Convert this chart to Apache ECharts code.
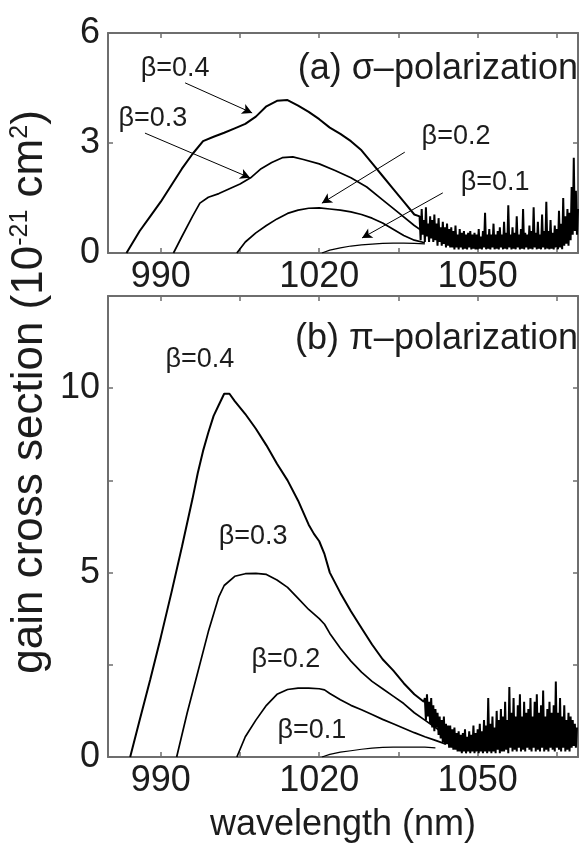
<!DOCTYPE html>
<html><head><meta charset="utf-8">
<script src="https://cdn.jsdelivr.net/npm/echarts@6/dist/echarts.min.js"></script>
<style>html,body{margin:0;padding:0;background:#fff}#c{width:582px;height:855px}</style>
</head><body><div id="c"></div>
<script>
// ---------- (a) sigma polarization ----------
const sig04Wl = [983.5,986,988,990,992,994,996,998,1000,1002,1004,1006,1008,1010,1012,1014,1016,1018,1020,1022,1024,1026,1028,1030,1032,1034,1036,1038];
const sig04Val = [0,0.6,1.0,1.4,1.85,2.3,2.7,3.05,3.17,3.28,3.4,3.52,3.72,4.0,4.15,4.17,4.02,3.85,3.65,3.42,3.25,3.05,2.8,2.45,2.1,1.75,1.4,1.05];
// noisy tail of the sigma spectra, sampled every 0.2 nm from 1039 nm
const sigTailStart = 1039, sigTailStep = 0.2;
const sigTailVal = [1.0,0.35,1.2,0.5,0.9,0.3,1.25,0.45,0.8,0.3,1.0,0.4,0.9,0.3,1.05,0.35,
 0.8,0.2,0.95,0.3,0.7,0.2,0.85,0.25,0.7,0.15,0.8,0.2,0.65,0.15,
 0.7,0.15,0.6,0.1,0.75,0.15,0.5,0.1,0.65,0.15,0.55,0.1,0.6,0.12,0.5,0.1,0.55,0.15,0.6,0.1,0.5,0.12,0.55,0.1,
 0.5,0.1,0.65,0.12,0.45,0.1,0.6,0.15,1.1,0.1,0.5,0.12,0.65,0.1,0.5,0.15,0.8,0.1,0.5,0.12,0.6,0.1,0.7,0.15,
 0.5,0.1,0.85,0.12,0.55,0.1,1.3,0.15,0.5,0.1,0.7,0.12,0.55,0.1,1.0,0.15,0.5,0.1,0.65,0.12,1.2,0.1,0.55,0.15,
 0.5,0.1,0.75,0.12,0.6,0.1,1.25,0.15,0.55,0.1,0.85,0.12,0.5,0.1,1.05,0.15,0.6,0.1,1.4,0.12,0.6,0.1,0.9,0.12,
 0.55,0.1,0.75,0.15,0.65,0.1,1.15,0.15,0.8,0.1,1.5,0.2,1.0,0.25,1.2,0.2,1.1,0.35,1.8,0.5,2.6,0.6,1.7,0.5,1.2];
const sig03Wl = [992.4,994,996,997.4,999,1001,1003,1005,1007,1009,1011,1013,1015,1017,1020,1023,1026,1029,1032,1035,1038,1040];
const sig03Val = [0,0.45,1.0,1.36,1.52,1.62,1.75,1.88,2.05,2.3,2.47,2.6,2.62,2.55,2.43,2.25,2.05,1.8,1.45,1.1,0.75,0.55];
const sig02Wl = [1004.4,1006,1008,1010,1012,1014,1016,1018,1020,1022,1024,1026,1028,1030,1032,1034,1036,1038,1040];
const sig02Val = [0,0.3,0.55,0.75,0.93,1.08,1.17,1.22,1.23,1.2,1.17,1.12,1.05,0.95,0.82,0.65,0.48,0.35,0.28];
const sig01Wl = [1020.5,1022,1024,1026,1028,1030,1032,1034,1036,1038,1040];
const sig01Val = [0,0.08,0.14,0.19,0.22,0.24,0.26,0.27,0.27,0.26,0.25];

// ---------- (b) pi polarization ----------
const pi04Wl = [984.2,986,988,990,992,994,996,997,998,999,1000,1001,1002,1003,1004,1006,1008,1010,1012,1014,1016,1018,1019,1020,1021,1022,1024,1026,1028,1030,1032,1034,1036,1038,1039.8];
const pi04Val = [0,1.0,2.1,3.25,4.45,5.7,7.0,7.7,8.3,8.8,9.25,9.55,9.85,9.85,9.65,9.3,8.9,8.45,7.95,7.5,6.95,6.3,6.05,5.85,5.5,5.0,4.45,3.95,3.5,3.05,2.65,2.35,2.0,1.7,1.5];
const piTailStart = 1040, piTailStep = 0.2;
const piTailVal = [1.6,1.0,1.7,1.1,1.5,0.9,1.6,0.8,1.4,0.7,1.3,0.8,1.2,0.6,1.1,0.5,
 1.0,0.4,1.1,0.35,0.9,0.35,0.85,0.25,0.85,0.25,0.75,0.2,0.8,0.2,0.65,
 0.15,0.7,0.15,0.6,0.1,0.65,0.15,0.75,0.1,0.55,0.15,0.7,0.1,0.6,0.15,0.85,0.1,0.65,0.15,
 0.75,0.1,0.9,0.15,0.7,0.1,1.0,0.15,0.85,0.1,1.6,0.15,0.9,0.1,1.1,0.15,0.8,0.1,1.25,0.2,1.0,0.1,1.3,0.15,
 1.1,0.15,1.5,0.2,1.0,0.1,1.9,0.25,1.2,0.15,1.6,0.2,1.1,0.15,1.4,0.25,1.7,0.15,1.1,0.2,1.5,0.15,1.2,0.25,
 1.3,0.2,1.6,0.15,1.1,0.25,1.5,0.15,1.7,0.2,1.2,0.15,1.4,0.25,1.8,0.15,1.1,0.2,1.3,0.15,1.5,0.25,1.2,0.2,
 1.4,0.15,2.05,0.25,1.2,0.2,1.6,0.15,1.1,0.25,1.4,0.15,1.0,0.2,1.2,0.15,1.1,0.25,1.0,0.3,0.9,0.25,0.8];
const pi03Wl = [993,995,997,999,1001,1002,1004,1006,1008,1010,1012,1014,1016,1018,1020,1021,1022,1024,1026,1028,1030,1032,1034,1036,1038,1040,1042,1044];
const pi03Val = [0,1.2,2.3,3.4,4.35,4.65,4.9,4.97,4.98,4.95,4.8,4.6,4.3,4.0,3.75,3.6,3.35,2.95,2.6,2.3,2.05,1.85,1.65,1.45,1.2,1.0,0.8,0.6];
const pi02Wl = [1004.4,1006,1008,1010,1012,1014,1016,1018,1020,1021,1022,1024,1026,1028,1030,1032,1034,1036,1038,1040,1042,1044];
const pi02Val = [0,0.55,1.0,1.4,1.7,1.83,1.87,1.87,1.85,1.82,1.72,1.55,1.4,1.28,1.15,1.02,0.9,0.78,0.66,0.55,0.45,0.35];
const pi01Wl = [1020.5,1022,1024,1026,1028,1030,1032,1034,1036,1038,1040,1042];
const pi01Val = [0,0.07,0.13,0.17,0.21,0.24,0.26,0.27,0.27,0.27,0.27,0.25];

// ---------- axes ----------
const xMin = 980, xMax = 1069;
const xLabelVals = [990,1020,1050];
const xTickVals = [990,1005,1020,1035,1050,1065];
const yTopLabels = [0,3,6];
const yBotLabels = [0,5,10];
const yBotTicks = [0,2.5,5,7.5,10,12.5];

function pairs(wl, val){ return wl.map((w,i)=>[w,val[i]]); }
function tail(start, step, val){ return val.map((v,i)=>[+(start+i*step).toFixed(2), v]); }

const FONT = 'Liberation Sans, Arial, sans-serif';
const AX = '#6e6e6e';
const TXT = '#1c1c1c';
const plain = v => String(v);

function xAx(g, pos, labels){
  return {type:'value', gridIndex:g, position:pos, min:xMin, max:xMax,
    axisLine:{show:true, onZero:false, lineStyle:{color:AX, width:2}},
    axisTick:{show:true, inside:true, length:5, customValues:xTickVals, lineStyle:{color:AX, width:1.5}},
    axisLabel:labels ? {show:true, customValues:xLabelVals, formatter:plain, fontSize:36, color:TXT, fontFamily:FONT, margin:6} : {show:false},
    splitLine:{show:false}};
}
function yAx(g, pos, max, ticks, labels){
  return {type:'value', gridIndex:g, position:pos, min:0, max:max,
    axisLine:{show:true, onZero:false, lineStyle:{color:AX, width:2}},
    axisTick:{show:true, inside:true, length:5, customValues:ticks, lineStyle:{color:AX, width:1.5}},
    axisLabel:labels ? {show:true, customValues:labels, formatter:plain, fontSize:36, color:TXT, fontFamily:FONT, margin:8} : {show:false},
    splitLine:{show:false}};
}

function line(data, xi, yi, w){
  return {type:'line', xAxisIndex:xi, yAxisIndex:yi, data:data, showSymbol:false, symbol:'none',
    animation:false, lineStyle:{color:'#000', width:w||1.7}, z:3};
}

const arrowStyle = {symbol:['none','arrow'], symbolSize:[8,10], silent:true, animation:false,
  lineStyle:{color:'#000', width:1, type:'solid'}, label:{show:false}, emphasis:{disabled:true}};

const sigArrows = [
  [{coord:[994.6,4.64]},{coord:[1007.3,3.82]}],
  [{coord:[987.0,3.27]},{coord:[1006.9,2.05]}],
  [{coord:[1036.2,2.75]},{coord:[1020.5,1.36]}],
  [{coord:[1043.4,1.64]},{coord:[1028.1,0.41]}]
];

const s04 = line(pairs(sig04Wl,sig04Val).concat(tail(sigTailStart,sigTailStep,sigTailVal)),0,0,2);
s04.markLine = Object.assign({data:sigArrows}, arrowStyle);

const option = {
  backgroundColor:'#fff',
  animation:false,
  grid:[{left:108, top:33, width:470, height:220},{left:108, top:296, width:470, height:461}],
  xAxis:[xAx(0,'bottom',true), xAx(0,'top',false),
    Object.assign(xAx(1,'bottom',true), {name:'wavelength (nm)', nameLocation:'middle', nameGap:50,
      nameTextStyle:{fontSize:36, color:TXT, fontFamily:FONT}}),
    xAx(1,'top',false)],
  yAxis:[yAx(0,'left',6,[0,3,6],yTopLabels), yAx(0,'right',6,[0,3,6],null),
    yAx(1,'left',12.5,yBotTicks,yBotLabels), yAx(1,'right',12.5,yBotTicks,null)],
  series:[
    s04,
    line(pairs(sig03Wl,sig03Val),0,0),
    line(pairs(sig02Wl,sig02Val),0,0),
    line(pairs(sig01Wl,sig01Val),0,0,1.2),
    line(pairs(pi04Wl,pi04Val).concat(tail(piTailStart,piTailStep,piTailVal)),2,2,2),
    line(pairs(pi03Wl,pi03Val),2,2),
    line(pairs(pi02Wl,pi02Val),2,2),
    line(pairs(pi01Wl,pi01Val),2,2,1.2)
  ]
};

const chart = echarts.init(document.getElementById('c'), null, {renderer:'canvas'});
chart.setOption(option);

// text annotations placed in data coordinates
const topNotes = [
  {t:'β=0.4', p:[992.7,5.02]},
  {t:'β=0.3', p:[988.5,3.68]},
  {t:'β=0.2', p:[1045.9,3.17]},
  {t:'β=0.1', p:[1053.3,1.91]}
];
const botNotes = [
  {t:'β=0.4', p:[997.4,10.79]},
  {t:'β=0.3', p:[1007.5,5.98]},
  {t:'β=0.2', p:[1013.7,2.64]},
  {t:'β=0.1', p:[1018.6,0.71]}
];
const g = [];
function note(text, px, align, size){
  g.push({type:'text', x:px[0], y:px[1], silent:true, z:10,
    style:{text:text, fill:TXT, font:size+'px '+FONT, align:align, verticalAlign:'middle'}});
}
topNotes.forEach(n=>note(n.t, chart.convertToPixel({xAxisIndex:0,yAxisIndex:0}, n.p), 'center', 27));
botNotes.forEach(n=>note(n.t, chart.convertToPixel({xAxisIndex:2,yAxisIndex:2}, n.p), 'center', 27));
note('(a) σ–polarization', chart.convertToPixel({xAxisIndex:0,yAxisIndex:0}, [1069,5.02]), 'right', 36);
note('(b) π–polarization', chart.convertToPixel({xAxisIndex:2,yAxisIndex:2}, [1069,11.33]), 'right', 36);
g.push({type:'text', x:30, y:392, rotation:Math.PI/2, silent:true, z:10,
  style:{text:'gain cross section (10{s|-21} cm{s|2})', fill:TXT, font:'44px '+FONT,
    align:'center', verticalAlign:'middle',
    rich:{s:{fontSize:25, fontFamily:FONT, fill:TXT, verticalAlign:'top', padding:[0,0,16,0]}}}});
chart.setOption({graphic:g});
</script></body></html>
